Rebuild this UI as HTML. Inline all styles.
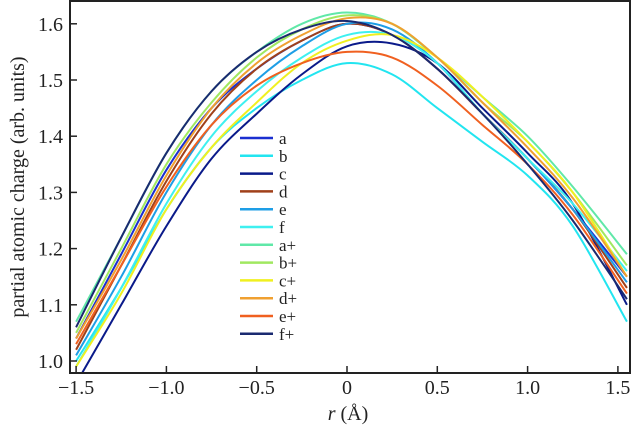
<!DOCTYPE html>
<html><head><meta charset="utf-8"><style>
body{margin:0;background:#fff}
svg text{font-family:"Liberation Serif","Times New Roman",serif;fill:#222}
</style></head><body>
<svg id="c" width="632" height="428" xmlns="http://www.w3.org/2000/svg">
<rect x="70" y="1" width="560" height="372" fill="none" stroke="#222" stroke-width="2"/>
<g id="series"></g>
<g id="axes"></g>
<g id="legend"></g>
<text x="348" y="420" font-size="20" text-anchor="middle"><tspan font-style="italic">r</tspan> (Å)</text>
<text transform="translate(24,187) rotate(-90)" font-size="20" text-anchor="middle">partial atomic charge (arb. units)</text>
</svg>
<script>
const xs=[-1.5,-1.25,-1,-0.75,-0.5,-0.25,0,0.25,0.5,0.75,1,1.25,1.55];
const names=["a","b","c","d","e","f","a+","b+","c+","d+","e+","f+"];
const colors=["#1a2fd0","#22e5f0","#0a1a8a","#a0401a","#1e9ee6","#3ef0f0","#60e8a8","#a0e860","#f0f020","#f0a030","#f06020","#1a2a70"];
const sA=[1.04,1.19,1.34,1.45,1.52,1.57,1.60,1.58,1.52,1.44,1.36,1.27,1.15];
const sB=[1.00,1.13,1.27,1.38,1.45,1.50,1.53,1.51,1.45,1.39,1.33,1.24,1.07];
const sC=[0.96,1.10,1.24,1.36,1.44,1.51,1.56,1.565,1.53,1.45,1.37,1.28,1.10];
const sD=[1.02,1.17,1.32,1.44,1.52,1.57,1.60,1.58,1.52,1.44,1.36,1.27,1.13];
const sE=[1.01,1.15,1.30,1.42,1.50,1.56,1.60,1.59,1.53,1.44,1.36,1.27,1.14];
const sF=[0.99,1.13,1.28,1.40,1.48,1.54,1.58,1.58,1.53,1.44,1.36,1.28,1.16];
const sAp=[1.07,1.22,1.37,1.48,1.55,1.60,1.62,1.60,1.54,1.47,1.40,1.31,1.19];
const sBp=[1.05,1.20,1.35,1.46,1.54,1.59,1.615,1.60,1.54,1.46,1.39,1.30,1.17];
const sCp=[0.99,1.12,1.27,1.38,1.46,1.53,1.57,1.58,1.54,1.47,1.39,1.30,1.15];
const sDp=[1.04,1.18,1.33,1.45,1.53,1.58,1.61,1.60,1.54,1.46,1.38,1.29,1.15];
const sEp=[1.03,1.17,1.31,1.42,1.49,1.53,1.55,1.54,1.49,1.42,1.35,1.26,1.12];
const sFp=[1.06,1.22,1.37,1.48,1.55,1.59,1.605,1.58,1.52,1.44,1.35,1.25,1.11];
const series=[sA,sB,sC,sD,sE,sF,sAp,sBp,sCp,sDp,sEp,sFp];
const xTicks=[-1.5,-1,-0.5,0,0.5,1,1.5];
const xTickLabels=["\u22121.5","\u22121.0","\u22120.5","0","0.5","1.0","1.5"];
const yTicks=[1.0,1.1,1.2,1.3,1.4,1.5,1.6];
const yTickLabels=["1.0","1.1","1.2","1.3","1.4","1.5","1.6"];
const X=v=>347+v*180.6;
const Y=v=>361-(v-1)*562;
const NS="http://www.w3.org/2000/svg";
function mk(t,a,p){const e=document.createElementNS(NS,t);for(const k in a)e.setAttribute(k,a[k]);p.appendChild(e);return e;}
const sg=document.getElementById('series');
const clip=mk('clipPath',{id:'cp'},document.getElementById('c'));
mk('rect',{x:71,y:2,width:558,height:370},clip);
sg.setAttribute('clip-path','url(#cp)');
series.forEach((s,i)=>{
  const p=s.map((v,j)=>[X(xs[j]),Y(v)]);
  let d=`M${p[0][0]},${p[0][1]}`;
  for(let j=0;j<p.length-1;j++){
    const p0=p[j-1]||p[j],p1=p[j],p2=p[j+1],p3=p[j+2]||p2;
    d+=` C${p1[0]+(p2[0]-p0[0])/6},${p1[1]+(p2[1]-p0[1])/6} ${p2[0]-(p3[0]-p1[0])/6},${p2[1]-(p3[1]-p1[1])/6} ${p2[0]},${p2[1]}`;
  }
  const el=mk('path',{d,fill:'none',stroke:colors[i],'stroke-width':2},sg);
  
  
});
const ax=document.getElementById('axes');
xTicks.forEach((v,i)=>{
  const t=mk('line',{x1:X(v),x2:X(v),y1:373,y2:366,stroke:'#222','stroke-width':1.5},ax);
  
  
  const l=mk('text',{x:X(v),y:394,'font-size':20,'text-anchor':'middle'},ax);l.textContent=xTickLabels[i];
  
  
});
yTicks.forEach((v,i)=>{
  const t=mk('line',{x1:70,x2:77,y1:Y(v),y2:Y(v),stroke:'#222','stroke-width':1.5},ax);
  
  
  const l=mk('text',{x:63,y:Y(v)+7,'font-size':20,'text-anchor':'end'},ax);l.textContent=yTickLabels[i];
  
  
});
const lg=document.getElementById('legend');
names.forEach((n,i)=>{
  const y=138+i*17.8;
  const g=mk('g',{},lg);
  
  
  mk('line',{x1:240,x2:273,y1:y,y2:y,stroke:colors[i],'stroke-width':2.5},g);
  const t=mk('text',{x:279,y:y+6,'font-size':17},g);t.textContent=n;
});
</script>
</body></html>
